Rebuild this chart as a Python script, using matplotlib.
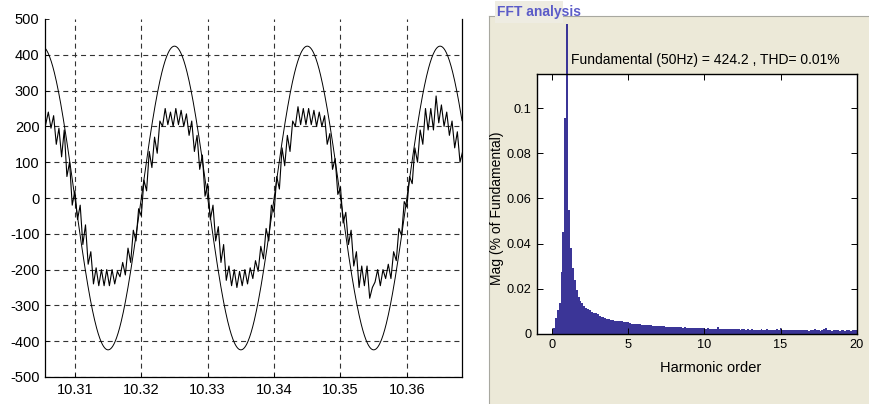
import numpy as np
import matplotlib
matplotlib.use("Agg")
import matplotlib.pyplot as plt
import matplotlib.font_manager as fm
from matplotlib.patches import Rectangle
from matplotlib.lines import Line2D
from matplotlib.transforms import Bbox, TransformedBbox

# ---------------- data ----------------
# Fundamental of the reference voltage (from the FFT readout)
fundamental_amp = 424.2
fundamental_hz = 50.0
fundamental_peak_t = 10.325

# Inverter output voltage, sampled every 0.4 ms from t = 10.3056 s
ripple_t0 = 10.3056
ripple_dt = 0.0004
ripple_v = [
    205, 240, 195, 230, 150, 195, 115, 190, 60, 100,
    -20, 20, -60, -20, -130, -75, -185, -150, -240, -195,
    -245, -200, -245, -200, -245, -200, -240, -205, -220, -180,
    -215, -140, -180, -90, -120, -30, -50, 50, 20, 130,
    85, 170, 125, 215, 200, 250, 205, 240, 200,
    250, 205, 245, 200, 235, 175, 215, 130, 175, 80,
    120, 5, 40, -60, -20, -120, -80, -180, -130, -230,
    -190, -245, -200, -250, -205, -245, -200, -240, -195, -225,
    -175, -205, -135, -170, -85, -120, -20, -40, 60, 25,
    140, 90, 175, 130, 215, 200, 255, 205, 250, 205,
    250, 205, 245, 200, 240, 200, 230, 150, 180, 80,
    110, 10, 30, -70, -40, -130, -90, -190, -150, -250,
    -190, -245, -190, -280, -250, -235, -200, -245, -200, -225,
    -185, -225, -150, -175, -85, -105, -10, -25, 60, 40,
    140, 100, 190, 150, 250, 190, 250, 190, 285, 210,
    260, 200, 240, 175, 215, 140, 185, 100, 130,
]

time_ticks = [10.31, 10.32, 10.33, 10.34, 10.35, 10.36]
volt_ticks = [-500, -400, -300, -200, -100, 0, 100, 200, 300, 400, 500]

# FFT spectrum, magnitude in % of fundamental, bins every 1/8 harmonic
harm_step = 0.125
fft_mag = [
    0.0, 0.0025, 0.007, 0.0105, 0.0135, 0.0275, 0.045, 0.0957,
    0.106, 0.055, 0.038, 0.029, 0.024, 0.0194, 0.0164, 0.0146,
    0.0136, 0.0124, 0.0115, 0.0108, 0.0104, 0.0098, 0.0093, 0.0090,
    0.0086, 0.0080, 0.0075, 0.0072, 0.0068, 0.0065, 0.0063, 0.0062,
    0.0060, 0.0058, 0.0057, 0.0056, 0.0055, 0.0055, 0.0054, 0.0053,
    0.0050, 0.0047, 0.0045, 0.0044, 0.0043, 0.0042, 0.0041, 0.0040,
    0.0039, 0.0039, 0.0038, 0.0037, 0.0038, 0.0036, 0.0036, 0.0035,
    0.0035, 0.0034, 0.0034, 0.0032, 0.0031, 0.0031, 0.0030, 0.0031,
    0.0029, 0.0029, 0.0028, 0.0029, 0.0028, 0.0027, 0.0028, 0.0026,
    0.0027, 0.0026, 0.0026, 0.0025, 0.0027, 0.0024, 0.0025, 0.0024,
    0.0025, 0.0023, 0.0024, 0.0022, 0.0023, 0.0022, 0.0021, 0.0029,
    0.0022, 0.0021, 0.0020, 0.0022, 0.0020, 0.0021, 0.0019, 0.0020,
    0.0019, 0.0021, 0.0019, 0.0018, 0.0020, 0.0019, 0.0018, 0.0019,
    0.0017, 0.0019, 0.0018, 0.0017, 0.0018, 0.0017, 0.0019, 0.0017,
    0.0018, 0.0022, 0.0017, 0.0016, 0.0017, 0.0018, 0.0021, 0.0016,
    0.0027, 0.0017, 0.0016, 0.0017, 0.0016, 0.0015, 0.0017, 0.0016,
    0.0015, 0.0016, 0.0017, 0.0015, 0.0016, 0.0015, 0.0016, 0.0014,
    0.0016, 0.0015, 0.0020, 0.0015, 0.0016, 0.0014, 0.0016, 0.0019,
    0.0026, 0.0015, 0.0016, 0.0014, 0.0015, 0.0016, 0.0015, 0.0014,
    0.0016, 0.0015, 0.0014, 0.0016, 0.0015, 0.0014, 0.0016, 0.0015,
    0.0015,
]
fundamental_order = 1.0
fundamental_pct = 100.0
harm_ticks = [0, 5, 10, 15, 20]
mag_ticks = [0, 0.02, 0.04, 0.06, 0.08, 0.1]
mag_tick_labels = ["0", "0.02", "0.04", "0.06", "0.08", "0.1"]
thd_text = "Fundamental (50Hz) = 424.2 , THD= 0.01%"

# ---------------- fonts ----------------
installed = {f.name for f in fm.fontManager.ttflist}
sans = "Liberation Sans" if "Liberation Sans" in installed else "DejaVu Sans"
narrow = "Liberation Sans Narrow" if "Liberation Sans Narrow" in installed else sans
plt.rcParams["font.family"] = [sans, "DejaVu Sans"]

W, H = 870, 404
fig = plt.figure(figsize=(W / 100, H / 100), dpi=100)
fig.patch.set_facecolor("white")


def fx(px):
    return px / W


def fy(py):
    return 1 - py / H


# ---------------- left: time-domain waveforms ----------------
t_lo, t_hi = 10.3055, 10.3683
axL = fig.add_axes([fx(45), fy(377), fx(462 - 45), (377 - 19) / H])
t_fine = np.linspace(t_lo, t_hi, 800)
axL.plot(t_fine,
         fundamental_amp * np.cos(2 * np.pi * fundamental_hz * (t_fine - fundamental_peak_t)),
         color="black", lw=0.7)
ripple_t = ripple_t0 + ripple_dt * np.arange(len(ripple_v))
axL.plot(ripple_t, ripple_v, color="black", lw=0.8)
axL.set_xlim(t_lo, t_hi)
axL.set_ylim(-500, 500)
axL.set_xticks(time_ticks)
axL.set_xticklabels([f"{v:.2f}" for v in time_ticks])
axL.set_yticks(volt_ticks)
axL.set_yticklabels([str(v) for v in volt_ticks])
axL.tick_params(direction="in", length=3, labelsize=10.5, pad=4, width=0.6)
for lab in axL.get_xticklabels() + axL.get_yticklabels():
    lab.set_fontfamily(sans)
axL.grid(True, color="#333333", linestyle=(0, (4.5, 3.5)), linewidth=0.8)
axL.spines["top"].set_visible(False)
for s in ("left", "bottom", "right"):
    axL.spines[s].set_linewidth(0.9)
# hide the gridline sitting on the open top edge
axL.get_ygridlines()[-1].set_visible(False)

# ---------------- right: FFT analysis panel ----------------
panel_bg = "#ece9d8"
fig.patches.append(Rectangle((fx(489), 0), 1 - fx(489), fy(15.5), transform=fig.transFigure,
                             facecolor=panel_bg, edgecolor="none", zorder=-5))
fig.lines.append(Line2D([fx(489), fx(489)], [0, fy(15.5)], transform=fig.transFigure,
                        color="#a8a8a0", lw=0.8, zorder=-4))
fig.lines.append(Line2D([fx(489), 1], [fy(15.5), fy(15.5)], transform=fig.transFigure,
                        color="#a8a8a0", lw=0.8, zorder=-4))
fig.patches.append(Rectangle((fx(495), fy(23)), fx(563 - 495), (23 - 1) / H,
                             transform=fig.transFigure, facecolor="#eeece2",
                             edgecolor="none", zorder=-3))
fig.text(fx(497), fy(12), "FFT analysis", color="#5b5bc8", fontsize=10,
         fontweight="bold", family=[narrow, sans], ha="left", va="center", zorder=3)

axR = fig.add_axes([fx(536.7), fy(333.7), fx(856.7 - 536.7), (333.7 - 74) / H])
axR.set_zorder(2)
axR.set_facecolor("white")
orders = harm_step * np.arange(len(fft_mag))
bar_color = "#3b3597"
axR.bar(orders, fft_mag, width=harm_step, color=bar_color,
        edgecolor="none", linewidth=0, align="center")
fund = axR.bar([fundamental_order], [fundamental_pct], width=0.1, color=bar_color,
               edgecolor="none", linewidth=0)
clip = TransformedBbox(Bbox([[0, 0], [1, fy(24)]]), fig.transFigure)
for p in fund.patches:
    p.set_clip_box(clip)
axR.set_xlim(-1, 20)
axR.set_ylim(0, 0.1152)
axR.set_xticks(harm_ticks)
axR.set_xticklabels([str(v) for v in harm_ticks])
axR.set_yticks(mag_ticks)
axR.set_yticklabels(mag_tick_labels)
axR.tick_params(direction="in", length=4, width=0.7, labelsize=9.2, pad=4,
                top=True, right=True)
for lab in axR.get_xticklabels() + axR.get_yticklabels():
    lab.set_fontfamily([narrow, sans])
for s in axR.spines.values():
    s.set_linewidth(1.0)

fig.text(fx(571), fy(60), thd_text, fontsize=10, ha="left", va="center", family=[sans])
fig.text(fx(711), fy(368), "Harmonic order", fontsize=10.5, ha="center", va="center",
         family=[sans])
fig.text(fx(497), fy(208), "Mag (% of Fundamental)", fontsize=10, ha="center",
         va="center", rotation=90, family=[sans])

fig.savefig("out.png", dpi=100)
